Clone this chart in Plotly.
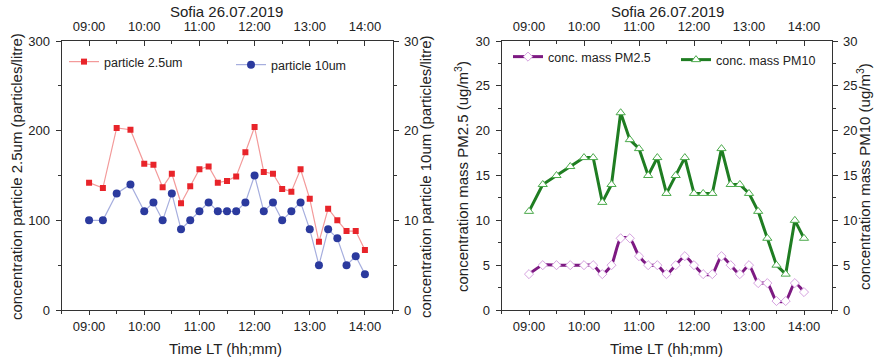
import plotly.graph_objects as go

DATE = "2019-07-26"
times = ["09:00", "09:15", "09:30", "09:45", "10:00", "10:10", "10:20", "10:30", "10:40", "10:50",
         "11:00", "11:10", "11:20", "11:30", "11:40", "11:50", "12:00", "12:10", "12:20", "12:30",
         "12:40", "12:50", "13:00", "13:10", "13:20", "13:30", "13:40", "13:50", "14:00"]

particle_25 = [142, 136, 203, 201, 163, 162, 137, 152, 119, 138, 157, 160, 142, 144, 149, 176, 204,
               154, 152, 135, 132, 157, 124, 76, 113, 100, 88, 88, 67]
particle_10 = [10, 10, 13, 14, 11, 12, 10, 13, 9, 10, 11, 12, 11, 11, 11, 12, 15,
               11, 12, 10, 11, 12, 9, 5, 9, 8, 5, 6, 4]
mass_pm25 = [4, 5, 5, 5, 5, 5, 4, 5, 8, 8, 6, 5, 5, 4, 5, 6, 5,
             4, 4, 6, 5, 4, 5, 3, 3, 1, 1, 3, 2]
mass_pm10 = [11, 14, 15, 16, 17, 17, 12, 14, 22, 19, 18, 15, 17, 13, 15, 17, 13,
             13, 13, 18, 14, 14, 13, 11, 8, 5, 4, 10, 8]

x_dt = [f"{DATE} {t}" for t in times]
x_range = [f"{DATE} 08:30", f"{DATE} 14:30"]

W, H = 879, 361
FONT = "Liberation Sans, Arial, sans-serif"
TXT = "#222222"
AX = "#333333"

dom_left = [61.5 / W, 392.5 / W]
dom_right = [501.5 / W, 831.5 / W]
dom_y = [51 / H, 320 / H]

fig = go.Figure()

fig.add_trace(go.Scatter(x=x_dt, y=particle_25, name="particle 2.5um", mode="lines+markers",
                         line=dict(color="#f39a9a", width=1.2),
                         marker=dict(symbol="square", size=6, color="#e8242a"),
                         xaxis="x", yaxis="y", legend="legend"))
fig.add_trace(go.Scatter(x=x_dt, y=particle_10, name="particle 10um", mode="lines+markers",
                         line=dict(color="#a6aede", width=1.2),
                         marker=dict(symbol="circle", size=8, color="#2b3a9e"),
                         xaxis="x", yaxis="y2", legend="legend2"))
fig.add_trace(go.Scatter(x=x_dt, y=mass_pm25, name="conc. mass PM2.5", mode="lines+markers",
                         line=dict(color="#7d1a82", width=3, shape="spline", smoothing=0.6),
                         marker=dict(symbol="diamond", size=7, color="white",
                                     line=dict(color="#d6a2e0", width=1)),
                         xaxis="x2", yaxis="y3", legend="legend3"))
fig.add_trace(go.Scatter(x=x_dt, y=mass_pm10, name="conc. mass PM10", mode="lines+markers",
                         line=dict(color="#1f7d22", width=3),
                         marker=dict(symbol="triangle-up", size=8, color="white",
                                     line=dict(color="#4caa4c", width=1)),
                         xaxis="x2", yaxis="y4", legend="legend4"))
# carriers for the top time axes
fig.add_trace(go.Scatter(x=[x_dt[0]], y=[None], xaxis="x3", yaxis="y", showlegend=False,
                         hoverinfo="skip", mode="markers"))
fig.add_trace(go.Scatter(x=[x_dt[0]], y=[None], xaxis="x4", yaxis="y3", showlegend=False,
                         hoverinfo="skip", mode="markers"))

tickfont = dict(family=FONT, size=13, color=TXT)


def xax(domain, anchor, side="bottom", overlaying=None):
    d = dict(domain=domain, anchor=anchor, type="date", range=x_range,
             tickformat="%H:%M", dtick=3600000, tick0=f"{DATE} 09:00",
             showline=True, linecolor=AX, linewidth=1, mirror=False,
             ticks="outside" if side == "bottom" else "inside",
             ticklen=4 if side == "bottom" else 5, tickcolor=AX,
             minor=dict(ticks="outside" if side == "bottom" else "inside", ticklen=3,
                        dtick=1800000, tickcolor=AX),
             showgrid=False, zeroline=False, tickfont=tickfont, side=side,
             ticklabelstandoff=0 if side == "bottom" else 4, automargin=False)
    if overlaying:
        d["overlaying"] = overlaying
    return d


def yax(domain, anchor, rng, dtick, side="left", overlaying=None, position=None):
    d = dict(domain=domain, anchor=anchor, range=rng, dtick=dtick,
             showline=True, linecolor=AX, linewidth=1,
             ticks="outside", ticklen=5, tickcolor=AX,
             minor=dict(ticks="outside", ticklen=3, dtick=dtick / 2, tickcolor=AX),
             showgrid=False, zeroline=False, tickfont=tickfont, side=side,
             ticklabelstandoff=3, automargin=False)
    if overlaying:
        d["overlaying"] = overlaying
    return d


fig.update_layout(
    width=W, height=H,
    margin=dict(l=0, r=0, t=0, b=0, autoexpand=False),
    paper_bgcolor="white", plot_bgcolor="white",
    font=dict(family=FONT, color=TXT),
    xaxis=xax(dom_left, "y"),
    xaxis2=xax(dom_right, "y3"),
    xaxis3=xax(dom_left, "y", side="top", overlaying="x"),
    xaxis4=xax(dom_right, "y3", side="top", overlaying="x2"),
    yaxis=yax(dom_y, "x", [0, 300], 100),
    yaxis2=yax(dom_y, "x", [0, 30], 10, side="right", overlaying="y"),
    yaxis3=yax(dom_y, "x2", [0, 30], 5),
    yaxis4=yax(dom_y, "x2", [0, 30], 5, side="right", overlaying="y3"),
    showlegend=True,
)

legfont = dict(family=FONT, size=12.5, color=TXT)


def leg(xpx, ypx):
    return dict(x=xpx / W, y=1 - ypx / H, xanchor="left", yanchor="middle",
                bgcolor="rgba(0,0,0,0)", borderwidth=0, font=legfont,
                itemwidth=30, tracegroupgap=0)


fig.update_layout(legend=leg(64, 62), legend2=leg(231, 65), legend3=leg(508, 57),
                  legend4=leg(676, 60))

ann = []


def text(xpx, ypx, s, size=15, angle=0):
    ann.append(dict(x=xpx / W, y=1 - ypx / H, xref="paper", yref="paper", text=s,
                    showarrow=False, textangle=angle, xanchor="center", yanchor="middle",
                    font=dict(family=FONT, size=size, color=TXT)))


text(227, 11, "Sofia 26.07.2019")
text(667, 11, "Sofia 26.07.2019")
text(226, 348, "Time LT (hh;mm)")
text(666, 348, "Time LT (hh;mm)")
text(16, 177, "concentration particle 2.5um (particles/litre)", angle=-90)
text(425, 177, "concentration particle 10um (particles/litre)", angle=-90)
text(461, 177, "concentration mass PM2.5 (ug/m<sup>3</sup>)", angle=-90)
text(863, 177, "concentration mass PM10 (ug/m<sup>3</sup>)", angle=-90)
fig.update_layout(annotations=ann)

fig.write_html("out.html")
